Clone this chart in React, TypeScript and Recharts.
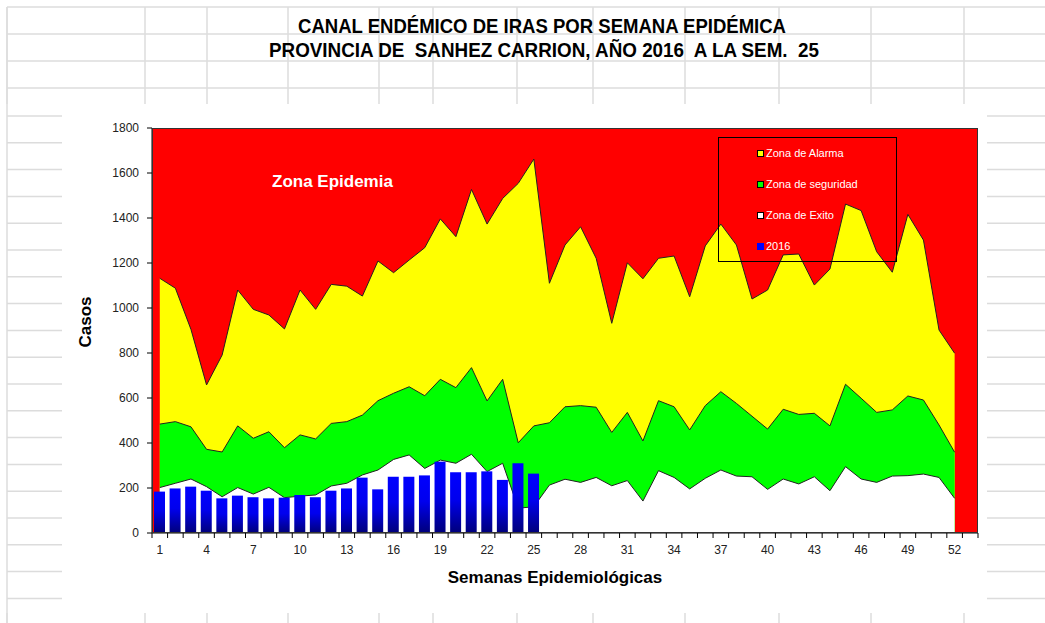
import { Area, Bar, CartesianGrid, ComposedChart, Legend, XAxis, YAxis } from 'recharts';

const FONT = "'Liberation Sans', Arial, sans-serif";
const NARROW = "'Liberation Sans Narrow', 'Arial Narrow', 'Liberation Sans', sans-serif";

const weeks = [
  '1', '2', '3', '4', '5', '6', '7', '8', '9', '10', '11', '12', '13', '14', '15', '16', '17', '18',
  '19', '20', '21', '22', '23', '24', '25', '26', '27', '28', '29', '30', '31', '32', '33', '34', '35',
  '36', '37', '38', '39', '40', '41', '42', '43', '44', '45', '46', '47', '48', '49', '50', '51', '52', '53',
];

// limite superior de la zona de alarma
const alarma = [
  1132, 1088, 905, 658, 791, 1080, 994, 969, 907, 1080, 994, 1105, 1097, 1053, 1209, 1157, 1213, 1268,
  1396, 1317, 1527, 1373, 1487, 1554, 1662, 1110, 1280, 1361, 1221, 932, 1201, 1130, 1221, 1231, 1050,
  1276, 1373, 1280, 1040, 1080, 1236, 1240, 1102, 1173, 1462, 1433, 1250, 1159, 1416, 1302, 902, 799,
];

// limite superior de la zona de seguridad
const seguridad = [
  484, 495, 472, 372, 360, 476, 421, 450, 379, 436, 418, 487, 495, 524, 588, 621, 650, 610, 683, 646,
  735, 587, 683, 401, 476, 490, 561, 566, 559, 447, 536, 409, 588, 561, 458, 566, 628, 576, 519, 462,
  550, 527, 532, 476, 661, 599, 536, 547, 609, 591, 480, 359,
];

// limite superior de la zona de exito
const exito = [
  202, 221, 240, 206, 161, 202, 173, 203, 157, 164, 169, 209, 221, 258, 280, 327, 347, 287, 324, 310,
  350, 273, 310, 110, 117, 213, 239, 225, 247, 210, 233, 142, 277, 247, 196, 243, 280, 253, 250, 194,
  240, 218, 250, 188, 295, 240, 225, 253, 255, 262, 247, 154,
];

const casos2016 = [
  184, 198, 206, 188, 154, 166, 159, 154, 157, 169, 159, 188, 198, 246, 194, 250, 250, 256, 317, 270,
  270, 274, 236, 310, 264,
];

const yTicks = [0, 200, 400, 600, 800, 1000, 1200, 1400, 1600, 1800];

const legendItems = [
  { label: 'Zona de Alarma', color: '#ffff00', border: true },
  { label: 'Zona de seguridad', color: '#00ff00', border: true },
  { label: 'Zona de Exito', color: '#ffffff', border: true },
  { label: '2016', color: '#0000ff', border: false },
];

const data = weeks.map((week, i) => ({
  week,
  alarma: alarma[i] ?? null,
  seguridad: seguridad[i] ?? null,
  exito: exito[i] ?? null,
  casos: casos2016[i] ?? null,
}));

// plot box
const PL = 152;
const PT = 128;
const PW = 826;
const PH = 405;
const BAND = PW / weeks.length;

function XTick(props: any) {
  const { x, y, payload, index } = props;
  const left = x - BAND / 2;
  return (
    <g>
      <line x1={left} y1={y} x2={left} y2={y + 5} stroke="#000" />
      {index === weeks.length - 1 && (
        <line x1={x + BAND / 2} y1={y} x2={x + BAND / 2} y2={y + 5} stroke="#000" />
      )}
      {index % 3 === 0 && (
        <text x={x} y={y + 21} textAnchor="middle" fontSize={12} fill="#222" fontFamily={FONT}>
          {payload.value}
        </text>
      )}
    </g>
  );
}

function renderLegend() {
  return (
    <div
      style={{
        width: 179,
        height: 125,
        boxSizing: 'border-box',
        border: '1px solid #000',
        position: 'relative',
        fontFamily: FONT,
        fontSize: 11,
        color: '#fff',
      }}
    >
      {legendItems.map((item, i) => (
        <div
          key={item.label}
          style={{ position: 'absolute', left: 38, top: 9 + i * 31, display: 'flex', alignItems: 'center', whiteSpace: 'nowrap' }}
        >
          <span
            style={{
              display: 'inline-block',
              width: 7,
              height: 7,
              boxSizing: 'border-box',
              background: item.color,
              border: item.border ? '1px solid #000' : 'none',
              marginRight: 2,
            }}
          />
          {item.label}
        </div>
      ))}
    </div>
  );
}

const gridColor = '#dcdcdc';
const topCols = [7, 145, 207, 288, 379, 433, 517, 593, 685, 779, 871, 964];
const topRows = [7, 34, 61, 88];
const sideRows = Array.from({ length: 19 }, (_, k) => 116 + k * 26.8);

export default function App() {
  return (
    <div style={{ position: 'absolute', left: 0, top: 0, width: 1045, height: 623, background: '#fff' }}>
      <svg width={1045} height={623} style={{ position: 'absolute', left: 0, top: 0 }}>
        {topRows.map((y) => (
          <line key={`tr${y}`} x1={7} y1={y} x2={1045} y2={y} stroke={gridColor} strokeWidth={1.5} />
        ))}
        {topCols.map((x) => (
          <line key={`tc${x}`} x1={x} y1={7} x2={x} y2={104} stroke={gridColor} strokeWidth={1.5} />
        ))}
        {topCols.map((x) => (
          <line key={`bc${x}`} x1={x} y1={613} x2={x} y2={623} stroke={gridColor} strokeWidth={1.5} />
        ))}
        <line x1={7} y1={7} x2={7} y2={623} stroke={gridColor} strokeWidth={1.5} />
        {sideRows.map((y) => (
          <g key={`sr${y}`}>
            <line x1={7} y1={y} x2={62} y2={y} stroke={gridColor} strokeWidth={1.5} />
            <line x1={987} y1={y} x2={1045} y2={y} stroke={gridColor} strokeWidth={1.5} />
          </g>
        ))}
      </svg>

      <div style={{ position: 'absolute', left: 0, top: 0 }}>
        <ComposedChart
          width={1045}
          height={623}
          data={data}
          margin={{ top: PT, right: 1045 - PL - PW, bottom: 623 - PT - PH - 30, left: PL - 60 }}
          barSize={11}
        >
          <defs>
            <linearGradient id="barGrad" x1="0" y1="0" x2="0" y2="1">
              <stop offset="0%" stopColor="#0000ff" />
              <stop offset="45%" stopColor="#0000ee" />
              <stop offset="100%" stopColor="#00007a" />
            </linearGradient>
          </defs>
          <CartesianGrid fill="#ff0000" fillOpacity={1} horizontal={false} vertical={false} stroke="none" />
          <XAxis
            dataKey="week"
            interval={0}
            height={30}
            tickSize={0}
            tickMargin={0}
            tickLine={false}
            tick={<XTick />}
            axisLine={{ stroke: '#000' }}
          />
          <YAxis
            domain={[0, 1800]}
            ticks={yTicks}
            width={60}
            tickSize={5}
            tickMargin={8}
            allowDataOverflow
            tick={{ fill: '#222', fontSize: 12, fontFamily: FONT }}
            axisLine={{ stroke: '#000' }}
            tickLine={{ stroke: '#000' }}
          />
          <Area
            type="linear"
            dataKey="alarma"
            stroke="#222"
            strokeWidth={1}
            fill="#ffff00"
            fillOpacity={1}
            dot={false}
            activeDot={false}
            isAnimationActive={false}
          />
          <Area
            type="linear"
            dataKey="seguridad"
            stroke="#222"
            strokeWidth={1}
            fill="#00ff00"
            fillOpacity={1}
            dot={false}
            activeDot={false}
            isAnimationActive={false}
          />
          <Area
            type="linear"
            dataKey="exito"
            stroke="#222"
            strokeWidth={1}
            fill="#ffffff"
            fillOpacity={1}
            dot={false}
            activeDot={false}
            isAnimationActive={false}
          />
          <Bar dataKey="casos" fill="url(#barGrad)" isAnimationActive={false} />
          <Legend
            content={renderLegend}
            layout="vertical"
            align="center"
            verticalAlign="middle"
            wrapperStyle={{ left: 718, top: 137, width: 179, height: 125 }}
          />
        </ComposedChart>
      </div>

      <svg width={1045} height={623} style={{ position: 'absolute', left: 0, top: 0, pointerEvents: 'none' }}>
        <rect x={PL + 0.5} y={PT + 0.5} width={PW - 1} height={PH - 1} fill="none" stroke="#333" strokeWidth={1} />
        <text
          x={298}
          y={33}
          fontFamily={NARROW}
          fontWeight="bold"
          fontSize={21}
          textLength={488}
          lengthAdjust="spacingAndGlyphs"
          style={{ whiteSpace: 'pre' }}
        >
          CANAL ENDÉMICO DE IRAS POR SEMANA EPIDÉMICA
        </text>
        <text
          x={269}
          y={57}
          fontFamily={NARROW}
          fontWeight="bold"
          fontSize={21}
          textLength={550}
          lengthAdjust="spacingAndGlyphs"
          style={{ whiteSpace: 'pre' }}
        >
          PROVINCIA DE  SANHEZ CARRION, AÑO 2016  A LA SEM.  25
        </text>
        <text x={272} y={187} fontFamily={FONT} fontWeight="bold" fontSize={17} fill="#fff">
          Zona Epidemia
        </text>
        <text
          x={0}
          y={0}
          transform="translate(91 322) rotate(-90)"
          textAnchor="middle"
          fontFamily={FONT}
          fontWeight="bold"
          fontSize={17}
          fill="#000"
        >
          Casos
        </text>
        <text x={555} y={583} textAnchor="middle" fontFamily={FONT} fontWeight="bold" fontSize={17} fill="#000">
          Semanas Epidemiológicas
        </text>
      </svg>
    </div>
  );
}
